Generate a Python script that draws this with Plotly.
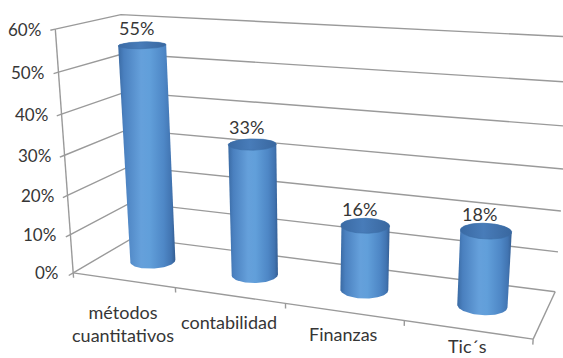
import numpy as np
import plotly.graph_objects as go

# ---- data -------------------------------------------------------------
categories = ["métodos<br>cuantitativos", "contabilidad", "Finanzas", "Tic´s"]
values = [0.55, 0.33, 0.16, 0.18]
value_ticks = [0.0, 0.1, 0.2, 0.3, 0.4, 0.5, 0.6]
value_tick_labels = ["0%", "10%", "20%", "30%", "40%", "50%", "60%"]

# ---- page / scene settings -------------------------------------------
W, H = 563, 358
FONT = "Lato"
TEXT = "#363636"
GRID = "#9a9a9a"

DEPTH = 1.03          # floor depth, in category widths
VALUE_SCALE = 3.517   # world height that corresponds to 100 %
RADIUS = 0.2          # cylinder radius, in category widths
X_MIN, X_MAX = -0.5, len(categories) - 0.5
Z_MAX = max(value_ticks) * VALUE_SCALE

# category labels sit below the floor edge; the gap narrows towards the viewer
CAT_GAP, CAT_GAP_STEP = 19.5, 4.9

# pinhole camera looking down-left onto the chart box
EYE = np.array([4.64, -7.52, 3.30])
YAW, PITCH = np.radians(20.7), np.radians(17.6)
FOCAL = 1083.0
CX, CY = 320.0, 219.0
R_AX = np.array([np.cos(YAW), np.sin(YAW), 0.0])
U_AX = np.array([-np.sin(YAW) * np.sin(PITCH), np.cos(YAW) * np.sin(PITCH), np.cos(PITCH)])
F_AX = np.array([-np.sin(YAW) * np.cos(PITCH), np.cos(YAW) * np.cos(PITCH), -np.sin(PITCH)])


def project(x, y, z):
    """World (category, depth, height) -> screen coordinates."""
    x, y, z = np.broadcast_arrays(np.asarray(x, float), np.asarray(y, float), np.asarray(z, float))
    v = np.stack([x, y, z], axis=-1) - EYE
    xc, yc, zc = v @ R_AX, v @ U_AX, v @ F_AX
    return CX + FOCAL * xc / zc, CY - FOCAL * yc / zc


def polyline(segments):
    """Join 3D segments into one x/y list separated by gaps."""
    xs, ys = [], []
    for seg in segments:
        px, py = project(*np.array(seg, float).T)
        xs += list(px) + [None]
        ys += list(py) + [None]
    return xs, ys


def convex_hull(px, py):
    pts = sorted(set(zip(np.round(px, 3), np.round(py, 3))))

    def cross(o, a, b):
        return (a[0] - o[0]) * (b[1] - o[1]) - (a[1] - o[1]) * (b[0] - o[0])

    lower, upper = [], []
    for p in pts:
        while len(lower) >= 2 and cross(lower[-2], lower[-1], p) <= 0:
            lower.pop()
        lower.append(p)
    for p in reversed(pts):
        while len(upper) >= 2 and cross(upper[-2], upper[-1], p) <= 0:
            upper.pop()
        upper.append(p)
    hull = lower[:-1] + upper[:-1]
    hull.append(hull[0])
    return [p[0] for p in hull], [p[1] for p in hull]


fig = go.Figure()

# ---- walls: value gridlines on the side wall and back wall -----------
grid_segments = []
for t in value_ticks:
    z = t * VALUE_SCALE
    grid_segments.append([(X_MIN, 0, z), (X_MIN, DEPTH, z), (X_MAX, DEPTH, z)])
gx, gy = polyline(grid_segments)
fig.add_trace(go.Scatter(x=gx, y=gy, mode="lines", line=dict(color=GRID, width=1.4),
                         hoverinfo="skip"))

# ---- axis lines, floor outline and tick marks ------------------------
axis_segments = [
    [(X_MIN, 0, 0), (X_MIN, 0, Z_MAX)],                 # value axis edge
    [(X_MIN, 0, 0), (X_MAX, 0, 0)],                     # floor front edge
    [(X_MAX, 0, 0), (X_MAX, DEPTH, 0)],                 # floor right edge
]
for t in value_ticks:
    z = t * VALUE_SCALE
    axis_segments.append([(X_MIN, 0, z), (X_MIN, -0.07, z)])
for k in range(len(categories) + 1):
    xb = X_MIN + k
    axis_segments.append([(xb, 0, 0), (xb, 0, -0.045)])
ax_x, ax_y = polyline(axis_segments)
fig.add_trace(go.Scatter(x=ax_x, y=ax_y, mode="lines", line=dict(color=GRID, width=1.4),
                         hoverinfo="skip"))

# ---- cylinders ---------------------------------------------------------
body_scale = [[0.0, "#3a6aa3"], [0.1, "#4a80bf"], [0.4, "#65a0db"], [0.55, "#619fda"],
              [0.8, "#4e87c6"], [0.93, "#4174b1"], [1.0, "#345d92"]]
cap_scale = [[0.0, "#3a6aa4"], [0.45, "#487cb9"], [1.0, "#39679f"]]
theta = np.linspace(0, 2 * np.pi, 121)
yc_bar = DEPTH / 2
for i, v in enumerate(values):
    h = v * VALUE_SCALE
    cx = i + RADIUS * np.cos(theta)
    cy = yc_bar + RADIUS * np.sin(theta)
    bx, by = project(cx, cy, 0.0)
    tx, ty = project(cx, cy, h)
    hx, hy = convex_hull(np.concatenate([bx, tx]), np.concatenate([by, ty]))
    fig.add_trace(go.Scatter(x=hx, y=hy, mode="lines", fill="toself",
                             line=dict(width=0, color="#3a6aa3"),
                             fillgradient=dict(type="horizontal", colorscale=body_scale),
                             hoverinfo="skip"))
    fig.add_trace(go.Scatter(x=list(tx), y=list(ty), mode="lines", fill="toself",
                             line=dict(width=0.6, color="#3d6ea8"),
                             fillgradient=dict(type="horizontal", colorscale=cap_scale),
                             hoverinfo="skip"))

# ---- text ---------------------------------------------------------------
annotations = []
for t, lab in zip(value_ticks, value_tick_labels):
    u, w = project(X_MIN, 0, t * VALUE_SCALE)
    annotations.append(dict(x=float(u), y=float(w), text=lab, showarrow=False,
                            xanchor="right", yanchor="middle", xshift=-12, yshift=0,
                            font=dict(family=FONT, size=17, color=TEXT)))
for i, v in enumerate(values):
    u, w = project(i, yc_bar, v * VALUE_SCALE)
    annotations.append(dict(x=float(u), y=float(w), text=f"{round(v * 100)}%", showarrow=False,
                            xanchor="center", yanchor="middle", xshift=-6, yshift=17,
                            font=dict(family=FONT, size=18, color=TEXT)))
for i, cat in enumerate(categories):
    u, w = project(i, 0, 0)
    annotations.append(dict(x=float(u), y=float(w), text=cat, showarrow=False,
                            xanchor="center", yanchor="top", borderpad=0,
                            yshift=-(CAT_GAP - CAT_GAP_STEP * i),
                            font=dict(family=FONT, size=18, color=TEXT)))

fig.update_layout(
    width=W, height=H,
    margin=dict(l=0, r=0, t=0, b=0),
    paper_bgcolor="white", plot_bgcolor="white",
    showlegend=False,
    xaxis=dict(range=[0, W], visible=False, fixedrange=True),
    yaxis=dict(range=[H, 0], visible=False, fixedrange=True),
    annotations=annotations,
)

fig.write_html("out.html")
